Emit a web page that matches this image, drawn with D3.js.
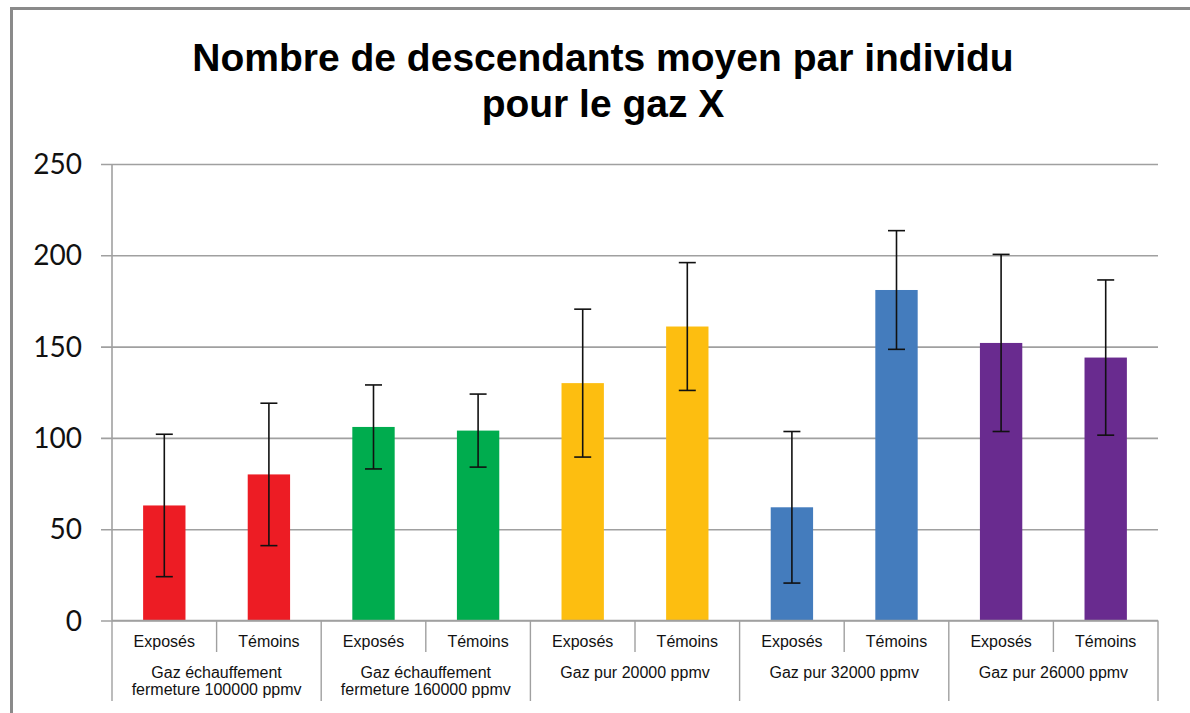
<!DOCTYPE html>
<html>
<head>
<meta charset="utf-8">
<script src="https://cdn.jsdelivr.net/npm/d3@7"></script>
<style>
  html, body { margin: 0; padding: 0; background: #fff; }
  svg { display: block; }
</style>
</head>
<body>
<svg id="chart"></svg>
<script>
// data
const groups = [
  ['Gaz échauffement', 'fermeture 100000 ppmv'],
  ['Gaz échauffement', 'fermeture 160000 ppmv'],
  ['Gaz pur 20000 ppmv'],
  ['Gaz pur 32000 ppmv'],
  ['Gaz pur 26000 ppmv'],
];
const subLabels = ['Exposés', 'Témoins'];
const means = [63, 80, 106, 104, 130, 161, 62, 181, 152, 144];
const errors = [39, 39, 23, 20, 40.5, 35, 41.5, 32.5, 48.5, 42.5];
const groupColors = ['#ED1C24', '#00AC4E', '#FDBE10', '#447CBD', '#692B8F'];
const yTicks = [0, 50, 100, 150, 200, 250];
const titleLines = ['Nombre de descendants moyen par individu', 'pour le gaz X'];

const width = 1190, height = 713;
const svg = d3.select('#chart').attr('width', width).attr('height', height);

// chart frame (runs off the right and bottom edge in the reference)
svg.append('rect')
   .attr('x', 11.5).attr('y', 8.5)
   .attr('width', width + 20).attr('height', height + 20)
   .attr('fill', '#fff').attr('stroke', '#8a8a8a').attr('stroke-width', 3);

const plotL = 112, plotR = 1158, plotT = 164, plotB = 620.5;

const bars = means.map((m, i) => ({
  i, mean: m, err: errors[i],
  group: Math.floor(i / 2), sub: subLabels[i % 2]
}));

const x = d3.scaleBand().domain(d3.range(bars.length)).range([plotL, plotR]);
const xGroup = d3.scaleBand().domain(d3.range(groups.length)).range([plotL, plotR]);
const y = d3.scaleLinear().domain([0, 250]).range([plotB, plotT]);

// gridlines
const yAxis = d3.axisLeft(y).tickValues(yTicks).tickSize(plotR - plotL + 11).tickFormat('');
const gy = svg.append('g').attr('transform', `translate(${plotR},0)`).call(yAxis);
gy.select('.domain').remove();
gy.selectAll('.tick line').attr('stroke', '#a0a0a0').attr('stroke-width', 1.6);

// tick labels
svg.append('g').selectAll('text').data(yTicks).join('text')
   .attr('x', 82).attr('y', d => y(d)).attr('dy', '0.36em')
   .attr('text-anchor', 'end')
   .style('font', '28px Lato, "Open Sans", sans-serif').attr('fill', '#111')
   .text(d => d);

// vertical axis line
svg.append('line').attr('x1', plotL).attr('x2', plotL).attr('y1', plotT).attr('y2', plotB)
   .attr('stroke', '#a0a0a0').attr('stroke-width', 1.6);

// bars
const barW = x.bandwidth() * 0.405;
svg.append('g').selectAll('rect').data(bars).join('rect')
   .attr('x', d => x(d.i) + (x.bandwidth() - barW) / 2)
   .attr('y', d => y(d.mean))
   .attr('width', barW)
   .attr('height', d => y(0) - y(d.mean))
   .attr('fill', d => groupColors[d.group]);

// error bars
const cap = 8.5;
const eb = svg.append('g').attr('stroke', '#111').attr('stroke-width', 1.6);
bars.forEach(d => {
  const cx = x(d.i) + x.bandwidth() / 2;
  const hi = y(d.mean + d.err), lo = y(d.mean - d.err);
  eb.append('line').attr('x1', cx).attr('x2', cx).attr('y1', hi).attr('y2', lo);
  eb.append('line').attr('x1', cx - cap).attr('x2', cx + cap).attr('y1', hi).attr('y2', hi);
  eb.append('line').attr('x1', cx - cap).attr('x2', cx + cap).attr('y1', lo).attr('y2', lo);
});

// category axis line
svg.append('line').attr('x1', plotL).attr('x2', plotR).attr('y1', plotB).attr('y2', plotB)
   .attr('stroke', '#a0a0a0').attr('stroke-width', 1.6);

// separators between sub categories and groups
const sep = svg.append('g').attr('stroke', '#a0a0a0').attr('stroke-width', 1.4);
d3.range(bars.length + 1).forEach(k => {
  const xx = k === bars.length ? plotR : x(k);
  const isGroup = k % 2 === 0;
  sep.append('line').attr('x1', xx).attr('x2', xx)
     .attr('y1', plotB).attr('y2', isGroup ? 701 : 652);
});

// sub category labels
svg.append('g').selectAll('text').data(bars).join('text')
   .attr('x', d => x(d.i) + x.bandwidth() / 2).attr('y', 641).attr('dy', '0.35em')
   .attr('text-anchor', 'middle')
   .style('font', '16px "Liberation Sans", Arial, sans-serif').attr('fill', '#111')
   .text(d => d.sub);

// group labels
const gl = svg.append('g').selectAll('text').data(groups).join('text')
   .attr('x', (d, i) => xGroup(i) + xGroup.bandwidth() / 2).attr('y', 672)
   .attr('text-anchor', 'middle')
   .style('font', '16px "Liberation Sans", Arial, sans-serif').attr('fill', '#111');
gl.selectAll('tspan').data(d => d).join('tspan')
  .attr('x', function() { return this.parentNode.getAttribute('x'); })
  .attr('dy', (d, i) => i === 0 ? '0.35em' : '1.1em')
  .text(d => d);

// title
svg.append('g').selectAll('text').data(titleLines).join('text')
   .attr('x', 603).attr('y', (d, i) => 57 + i * 46).attr('dy', '0.35em')
   .attr('text-anchor', 'middle')
   .style('font', 'bold 39px "Liberation Sans", Arial, sans-serif').attr('fill', '#000')
   .text(d => d);
</script>
</body>
</html>
